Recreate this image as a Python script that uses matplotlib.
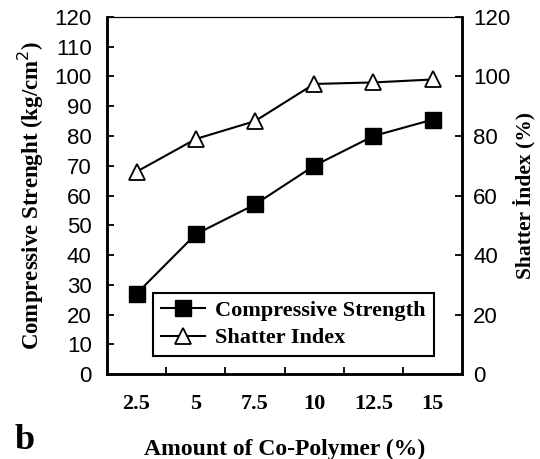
import matplotlib
matplotlib.use("Agg")
import matplotlib.pyplot as plt
import numpy as np

categories = ["2.5", "5", "7.5", "10", "12.5", "15"]
compressive = [27, 47, 57, 70, 80, 85.5]
shatter = [68, 79, 85, 97.5, 98, 99]
yticks_left = [0, 10, 20, 30, 40, 50, 60, 70, 80, 90, 100, 110, 120]
yticks_right = [0, 20, 40, 60, 80, 100, 120]

serif = ["Liberation Serif", "DejaVu Serif"]
sans = ["Liberation Sans", "DejaVu Sans"]

fig = plt.figure(figsize=(5.4, 4.59), dpi=100)
ax = fig.add_axes([0.198, 0.185, 0.658, 0.778])
ax2 = ax.twinx()

x = np.arange(len(categories))
l1, = ax.plot(x, compressive, color="black", lw=1.5, marker="s", ms=11,
              mfc="black", mec="black", label="Compressive Strength")
l2, = ax2.plot(x, shatter, color="black", lw=1.5, marker="^", ms=12,
               mfc="white", mec="black", mew=1.3, label="Shatter Index")

ax.set_xlim(-0.5, len(categories) - 0.5)
ax.set_ylim(0, 120)
ax2.set_ylim(0, 120)
ax.set_yticks(yticks_left)
ax2.set_yticks(yticks_right)
ax.set_xticks(x)
ax.set_xticklabels(categories, family=serif, fontweight="bold", fontsize=16)
ax.set_xticks(np.arange(0.5, len(categories) - 1, 1.0), minor=True)
ax.tick_params(axis="x", which="major", length=0, pad=14)
ax.tick_params(axis="x", which="minor", direction="in", length=5, width=1.3)
ax.tick_params(axis="y", direction="in", length=5, width=1.3, pad=11)
ax2.tick_params(axis="y", direction="in", length=5, width=1.3, pad=8)
for lab in ax.get_yticklabels() + ax2.get_yticklabels():
    lab.set_family(sans)
    lab.set_fontsize(16)

for a in (ax, ax2):
    for side in ("left", "bottom", "right"):
        a.spines[side].set_linewidth(1.8)
    a.spines["top"].set_linewidth(0.8)

ax.set_ylabel("Compressive Strenght (kg/cm$^2$)", family=serif,
              fontweight="bold", fontsize=16.5, labelpad=6)
ax2.set_ylabel("Shatter İndex (%)", family=serif, fontweight="bold",
               fontsize=15.5, labelpad=2)
ax.set_xlabel("Amount of Co-Polymer (%)", family=serif, fontweight="bold",
              fontsize=17, labelpad=18)

leg = ax2.legend(handles=[l1, l2], loc="lower left",
                 bbox_to_anchor=(0.13, 0.05), frameon=True, fancybox=False,
                 edgecolor="black", framealpha=1, borderpad=0.35,
                 borderaxespad=0,
                 handlelength=2.0, handletextpad=0.45, labelspacing=0.3,
                 prop={"family": serif, "weight": "bold", "size": 16})
leg.get_frame().set_linewidth(1.5)

fig.text(0.027, 0.004, "b", family=serif, fontweight="bold", fontsize=26,
         ha="left", va="bottom")

fig.savefig("out.png", dpi=100)
